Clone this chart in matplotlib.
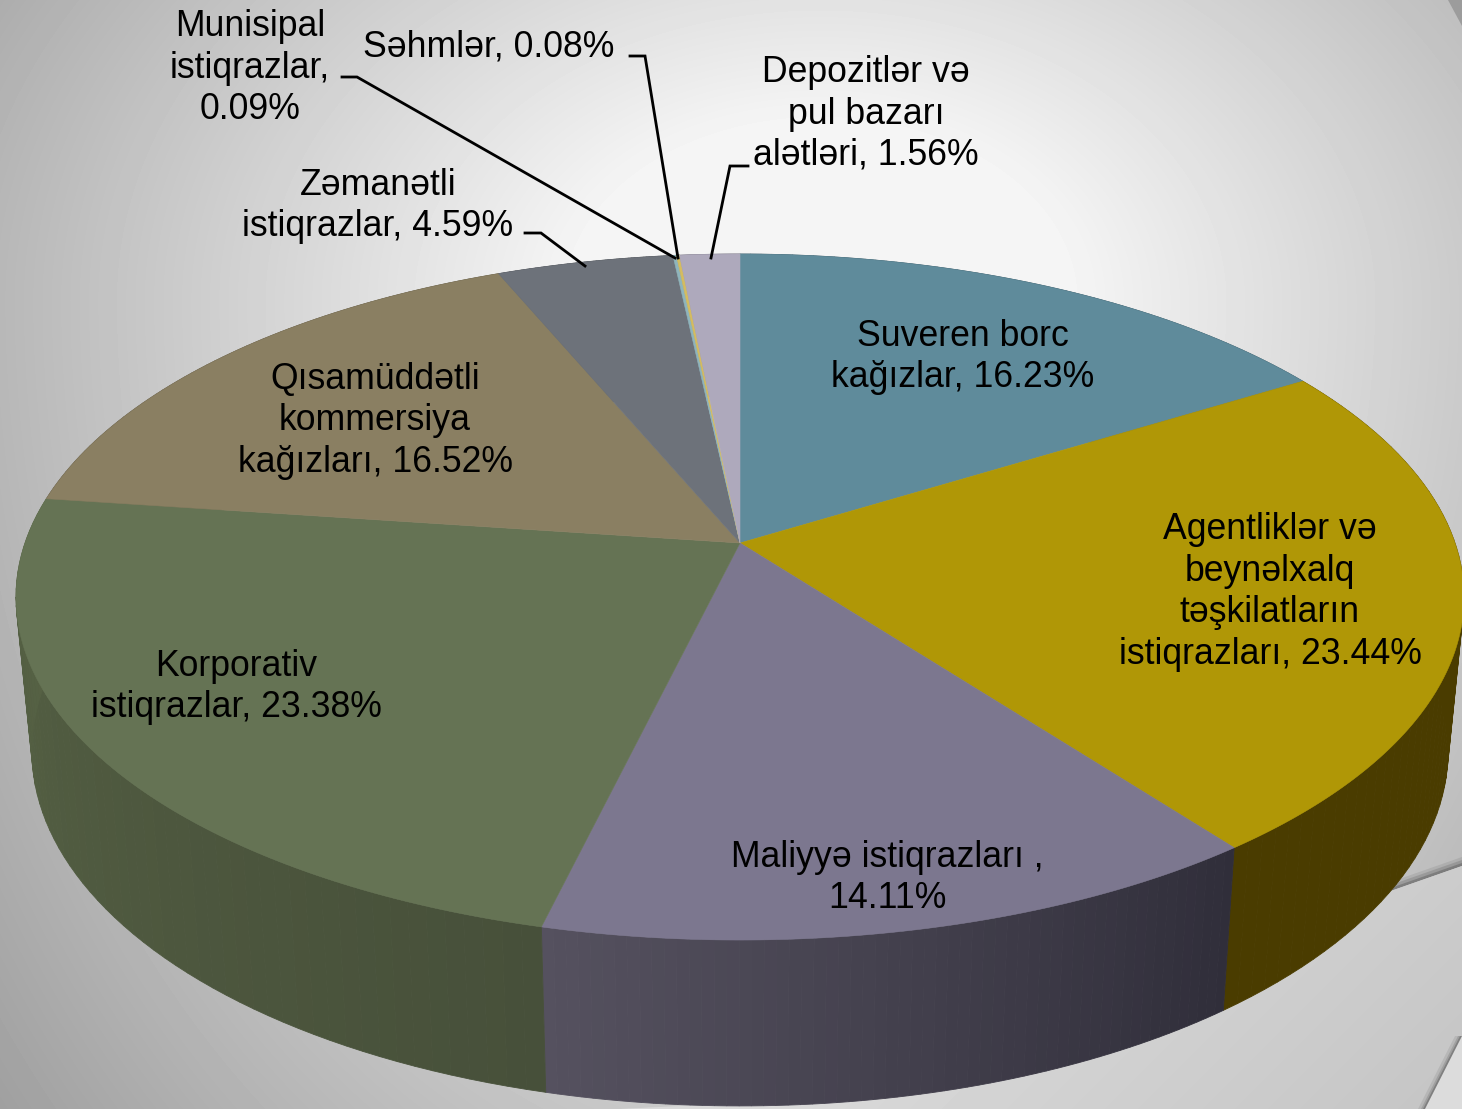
# -*- coding: utf-8 -*-
import numpy as np
import matplotlib.pyplot as plt
from matplotlib.colors import to_rgb

plt.rcParams['font.family'] = ['Liberation Sans', 'DejaVu Sans']

#Slices, clockwise from the top
labels = ["Suveren borc\nkağızlar, 16.23%",
          "Agentliklər və\nbeynəlxalq\ntəşkilatların\nistiqrazları, 23.44%",
          "Maliyyə istiqrazları ,\n14.11%",
          "Korporativ\nistiqrazlar, 23.38%",
          "Qısamüddətli\nkommersiya\nkağızları, 16.52%",
          "Zəmanətli\nistiqrazlar, 4.59%",
          "Munisipal\nistiqrazlar,\n0.09%",
          "Səhmlər, 0.08%",
          "Depozitlər və\npul bazarı\nalətləri, 1.56%"]
values = [16.23, 23.44, 14.11, 23.38, 16.52, 4.59, 0.09, 0.08, 1.56]
top_colors = ["#5f8b9b", "#b09706", "#7c778f", "#657354", "#8a7f62",
              "#6d727a", "#8fb4bc", "#d4bc60", "#aea9bc"]
side_left = ["#3a5560", "#4a3c00", "#55515f", "#576345", "#5a5340",
             "#484b50", "#5f7880", "#8a7a3d", "#73707c"]
side_right = ["#3a5560", "#4a3c00", "#302e3a", "#47503a", "#5a5340",
              "#484b50", "#5f7880", "#8a7a3d", "#73707c"]

label_xy = [(963, 357), (1270, 592), (887, 878), (236, 687), (375, 421),
            (378, 206), (250, 68), (489, 47), (866, 114)]
leaders = [None, None, None, None, None,
           [(525, 233), (541, 233), (585, 266)],
           [(342, 77), (357, 77), (675, 258)],
           [(630, 56), (645, 56), (678, 258)],
           [(748, 166), (730, 166), (711, 258)]]

#Perspective of the disc
cx, cy = 740, 543
a, b, k = 715, 334.5, 0.1575
shrink, stretch, y_bottom = 0.978, 1.035, 695


def top(theta):
    w = 1 + k * np.cos(theta)
    return cx + a * np.sin(theta) / w, cy - b * np.cos(theta) / w


def bottom(theta):
    x, y = top(theta)
    return cx + shrink * (x - cx), y_bottom + stretch * (y - cy)


fig = plt.figure(figsize=(14.62, 11.09), dpi=100)
ax = fig.add_axes([0, 0, 1, 1])

#Background, flat bright patch in the middle
yy, xx = np.mgrid[0:1109, 0:1462]
dy = yy - 300.0
dist = np.sqrt((xx - 820.0)**2 + (np.where(dy < 0, 1.4, 0.8) * dy)**2)
ax.imshow(0.96 - 0.00042 * np.maximum(dist - 250, 0), cmap="gray", vmin=0, vmax=1,
          extent=[0, 1462, 1109, 0], interpolation="bilinear", zorder=0)

#Shapes in the corners of the slide
shape_x = [620, 900, 1100, 1250, 1385, 1462, 1462, 620]
shape_y = [1109, 1095, 1040, 960, 893, 866, 1109, 1109]
for off, alpha in zip([9, 6, 3], [0.08, 0.12, 0.18]):
    ax.fill(shape_x[4:6] + [1462, 1385], [shape_y[4] - off, shape_y[5] - off, 900, 900],
            color="black", alpha=alpha, lw=0, zorder=0.4)
shape = ax.fill(shape_x, shape_y, color="#cfcfcf", lw=0, zorder=0.5)[0]
shade = ax.imshow(0.85 - 0.00012 * np.maximum(xx + yy - 1900.0, 0), cmap="gray",
                  vmin=0, vmax=1, extent=[0, 1462, 1109, 0], zorder=0.55)
shade.set_clip_path(shape)
for off, alpha in zip([7, 4, 2], [0.08, 0.12, 0.2]):
    ax.fill([1425 - off, 1462 - off, 1462, 1462], [1109, 1036, 1036, 1109],
            color="black", alpha=alpha, lw=0, zorder=0.7)
ax.fill([1425, 1462, 1462], [1109, 1036, 1109], color="#dcdcdc", lw=0, zorder=0.8)
ax.fill([1448, 1462, 1462], [0, 0, 26], color="#9c9c9c", lw=0, zorder=0.8)

edges = np.cumsum([0] + values) / sum(values) * 2 * np.pi

#Side wall
for i in range(len(values)):
    n = 60
    th = np.linspace(edges[i], edges[i + 1], n + 1)
    c1 = np.array(to_rgb(side_left[i]))
    c2 = np.array(to_rgb(side_right[i]))
    for j in range(n):
        x1, y1 = top(th[j:j + 2])
        x2, y2 = bottom(th[j:j + 2])
        f = j / max(n - 1, 1)
        color = c2 + (c1 - c2) * f
        ax.fill(np.r_[x1, x2[::-1]], np.r_[y1, y2[::-1]], color=color, lw=0.6,
                zorder=2)

#Top face
for i in range(len(values)):
    th = np.linspace(edges[i], edges[i + 1], 120)
    x, y = top(th)
    ax.fill(np.r_[cx, x], np.r_[cy, y], color=top_colors[i], lw=0.4, zorder=3)

for i in range(len(values)):
    if leaders[i] is not None:
        lx, ly = zip(*leaders[i])
        ax.plot(lx, ly, color="black", lw=2.0, solid_joinstyle="miter", zorder=4)
    ax.text(label_xy[i][0], label_xy[i][1], labels[i], ha="center",
            va="center", fontsize=25.7, color="black", linespacing=1.24, zorder=5)

ax.set_xlim(0, 1462)
ax.set_ylim(1109, 0)
ax.axis("off")
fig.savefig("out.png", dpi=100)
